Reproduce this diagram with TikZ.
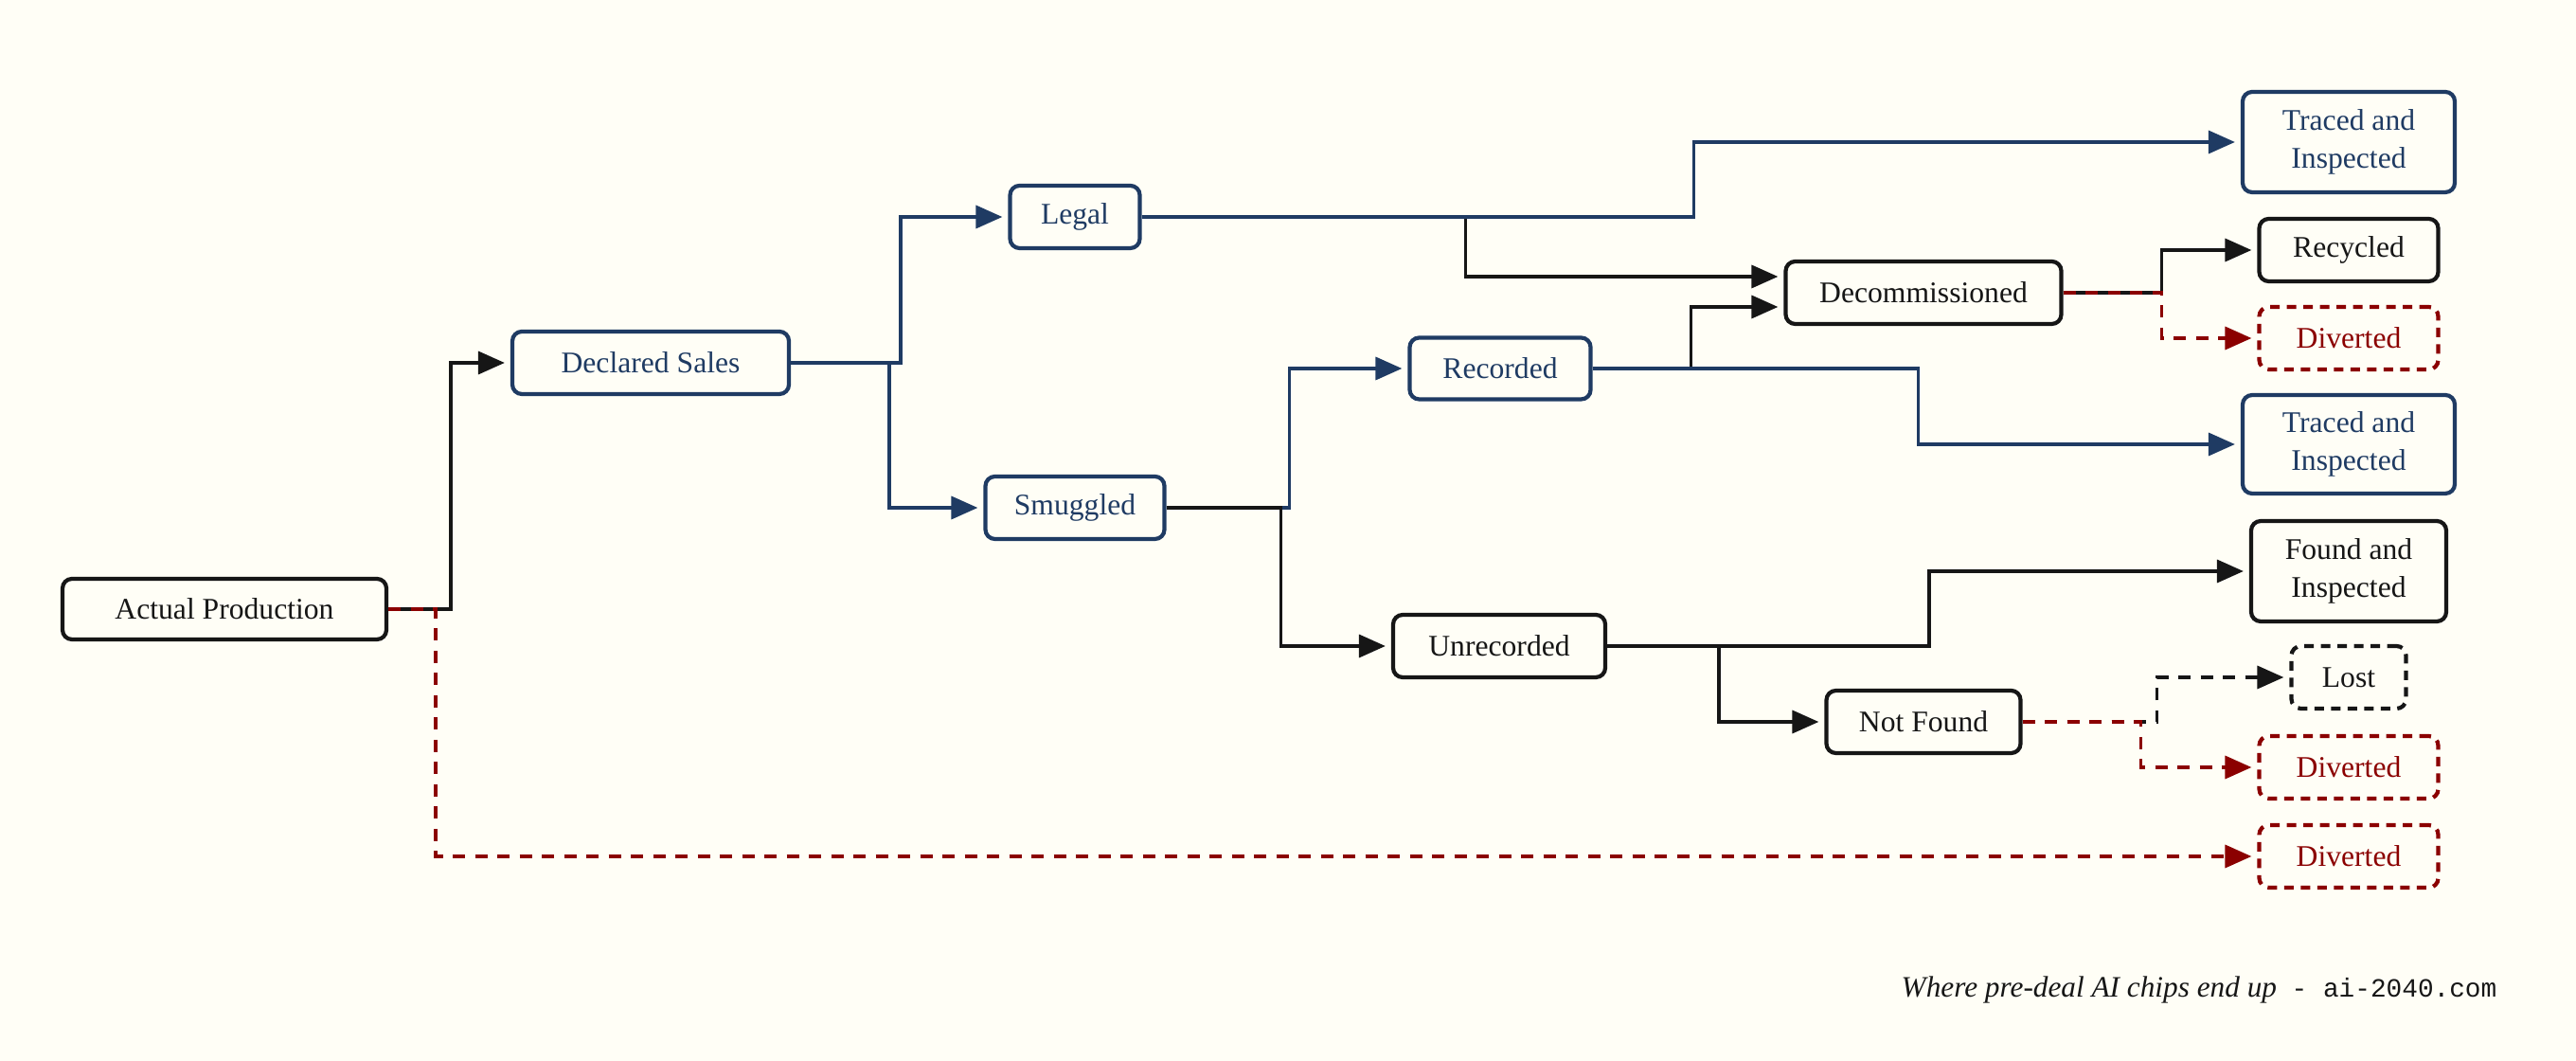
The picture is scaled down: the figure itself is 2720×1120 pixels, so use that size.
\documentclass[tikz,border=0pt]{standalone}
\usepackage{fontspec}
\setmainfont{Liberation Serif}
\setmonofont{Liberation Mono}
\usetikzlibrary{arrows.meta}
\definecolor{bg}{HTML}{FFFEF6}
\definecolor{navy}{HTML}{1F3B63}
\definecolor{dred}{HTML}{8B0000}
\definecolor{ink}{HTML}{161616}
\tikzset{
  box/.style={draw=ink, text=ink, line width=1.2pt, rounded corners=1mm, fill=bg,
    inner sep=0pt, align=center, font=\fontsize{9}{11.4}\selectfont},
  bluebox/.style={box, draw=navy, text=navy},
  redbox/.style={box, draw=dred, text=dred, dash pattern=on 1.0mm off 0.75mm},
  lostbox/.style={box, dash pattern=on 1.0mm off 0.75mm},
  link/.style={line width=1pt, shorten >=0.6mm, -{Triangle[length=2.8mm,width=2.4mm]}},
  blk/.style={link, draw=ink},
  blu/.style={link, draw=navy},
  redd/.style={link, draw=dred, dash pattern=on 1.3mm off 1.05mm},
  blkd/.style={link, draw=ink, dash pattern=on 1.3mm off 1.05mm},
}
\begin{document}
\begin{tikzpicture}[x=0.1mm,y=-0.1mm]
\fill[bg] (0,0) rectangle (2720,1120);
\useasboundingbox (0,0) rectangle (2720,1120);

\node[box, minimum width=34.2mm, minimum height=6.4mm] (ap) at (237,643) {Actual Production};
\node[bluebox, minimum width=29.2mm, minimum height=6.6mm] (ds) at (687,383) {Declared Sales};
\node[bluebox, minimum width=13.7mm, minimum height=6.6mm] (legal) at (1135,229) {Legal};
\node[bluebox, minimum width=18.9mm, minimum height=6.6mm] (smug) at (1135,536) {Smuggled};
\node[bluebox, minimum width=19.1mm, minimum height=6.5mm] (rec) at (1584,389) {Recorded};
\node[box, minimum width=22.4mm, minimum height=6.6mm] (unrec) at (1583,682) {Unrecorded};
\node[box, minimum width=29.1mm, minimum height=6.6mm] (decom) at (2031,309) {Decommissioned};
\node[box, minimum width=20.5mm, minimum height=6.6mm] (nf) at (2031,762) {Not Found};
\node[bluebox, minimum width=22.4mm, minimum height=10.6mm] (tr1) at (2480,150) {Traced and\\Inspected};
\node[box, minimum width=18.9mm, minimum height=6.6mm] (recy) at (2480,264) {Recycled};
\node[redbox, minimum width=18.9mm, minimum height=6.6mm] (div1) at (2480,357) {Diverted};
\node[bluebox, minimum width=22.4mm, minimum height=10.4mm] (tr2) at (2480,469) {Traced and\\Inspected};
\node[box, minimum width=20.6mm, minimum height=10.6mm] (found) at (2480,603) {Found and\\Inspected};
\node[lostbox, minimum width=12.1mm, minimum height=6.6mm] (lost) at (2480,715) {Lost};
\node[redbox, minimum width=18.9mm, minimum height=6.6mm] (div2) at (2480,810) {Diverted};
\node[redbox, minimum width=18.9mm, minimum height=6.6mm] (div3) at (2480,904) {Diverted};

% connectors
\draw[blk] (ap.east) -- ++(66,0) |- (ds.west);
\draw[redd] (ap.east) -- ++(50,0) |- (div3.west);

\draw[blu] (ds.east) -- ++(116,0) |- (legal.west);
\draw[blu] (ds.east) -- ++(104,0) |- (smug.west);

\draw[blk] (legal.east) -- ++(342,0) |- ([yshift=1.7mm]decom.west);
\draw[blu] (legal.east) -- ++(583,0) |- (tr1.west);

\draw[blu] (smug.east) -- ++(130,0) |- (rec.west);
\draw[blk] (smug.east) -- ++(121,0) |- (unrec.west);

\draw[blk] (rec.east) -- ++(104,0) |- ([yshift=-1.5mm]decom.west);
\draw[blu] (rec.east) -- ++(344,0) |- (tr2.west);

\draw[blk] (decom.east) -- ++(104,0) |- (recy.west);
\draw[redd] (decom.east) -- ++(104,0) |- (div1.west);

\draw[blk] (unrec.east) -- ++(340,0) |- (found.west);
\draw[blk] (unrec.east) -- ++(118,0) |- (nf.west);

\draw[blkd] (nf.east) -- ++(142,0) |- (lost.west);
\draw[redd] (nf.east) -- ++(125,0) |- (div2.west);

\node[anchor=base east, inner sep=0pt, text=ink] (cap) at (2637,1052)
  {\fontsize{8.9}{11}\selectfont\itshape Where pre-deal AI chips end up\ \ {\upshape\ttfamily\fontsize{7.9}{9}\selectfont - ai-2040.com}};
\end{tikzpicture}
\end{document}
